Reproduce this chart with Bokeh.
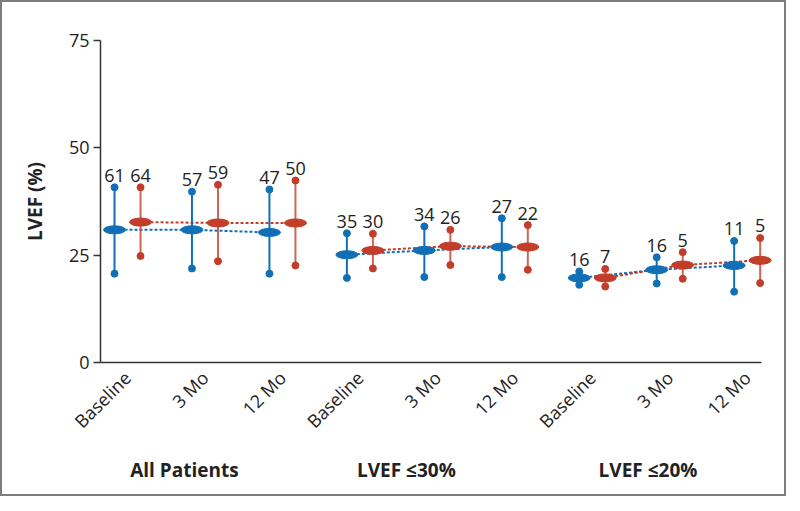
import math
from bokeh.plotting import figure
from bokeh.models import Range1d, FixedTicker, LinearAxis
from bokeh.core.properties import value
from bokeh.embed import file_html
from bokeh.resources import INLINE

# ---- data ----
time_labels = ["Baseline", "3 Mo", "12 Mo", "Baseline", "3 Mo", "12 Mo", "Baseline", "3 Mo", "12 Mo"]
groups = ["All Patients", "LVEF \u226430%", "LVEF \u226420%"]
blue_mean = [30.9, 30.9, 30.3, 25.1, 26.1, 26.9, 19.7, 21.6, 22.6]
blue_hi = [40.8, 39.8, 40.3, 30.1, 31.7, 33.6, 21.2, 24.5, 28.3]
blue_lo = [20.7, 21.9, 20.7, 19.7, 19.9, 19.9, 18.1, 18.4, 16.5]
blue_n = [61, 57, 47, 35, 34, 27, 16, 16, 11]
red_mean = [32.7, 32.5, 32.5, 26.1, 27.1, 26.9, 19.7, 22.7, 23.8]
red_hi = [40.8, 41.4, 42.4, 30.0, 30.9, 32.0, 21.8, 25.7, 29.0]
red_lo = [24.8, 23.6, 22.6, 21.9, 22.7, 21.6, 17.7, 19.5, 18.5]
red_n = [64, 59, 50, 30, 26, 22, 7, 5, 5]
y_ticks = [0, 25, 50, 75]

# ---- layout constants ----
BLUE = "#1170b5"
RED = "#c33d2b"
FONT = "Open Sans"
OFF = 0.168
group_label_pos = [0.735, 3.6, 6.72]

idx = list(range(len(time_labels)))
bx = [i - OFF for i in idx]
rx = [i + OFF for i in idx]

p = figure(frame_width=674, frame_height=322, output_backend="svg", toolbar_location=None,
           x_range=Range1d(-0.349, 8.353), y_range=Range1d(0, 75),
           min_border_left=98, min_border_top=38, min_border_right=10,
           min_border_bottom=132, x_axis_location=None)
p.styles = {"border": "2px solid #7d7d7d"}
p.outline_line_color = None
p.xgrid.visible = False
p.ygrid.visible = False
p.background_fill_color = "white"

# dashed connectors within each group
for g in range(3):
    s = slice(3 * g, 3 * g + 3)
    p.line(bx[s], blue_mean[s], line_color=BLUE, line_width=2, line_dash="3 2")
    p.line(rx[s], red_mean[s], line_color=RED, line_width=2, line_dash="3 2")

# whiskers
p.segment(x0=bx, y0=blue_lo, x1=bx, y1=blue_hi, line_color=BLUE, line_width=2)
p.segment(x0=rx, y0=red_lo, x1=rx, y1=red_hi, line_color=RED, line_width=2, line_alpha=0.8)
for xs, lo, hi, c in [(bx, blue_lo, blue_hi, BLUE), (rx, red_lo, red_hi, RED)]:
    p.scatter(xs, lo, size=7, color=c)
    p.scatter(xs, hi, size=7, color=c)

# means
p.ellipse(x=bx, y=blue_mean, width=22, height=8, width_units="screen", height_units="screen",
          fill_color=BLUE, line_color=BLUE)
p.ellipse(x=rx, y=red_mean, width=22, height=8, width_units="screen", height_units="screen",
          fill_color=RED, line_color=RED)

# n labels
p.text(x=bx, y=blue_hi, text=[str(n) for n in blue_n], text_align="center",
       text_baseline="alphabetic", y_offset=-12, text_font=value(FONT),
       text_font_size="18px", text_color="#222222")
p.text(x=rx, y=red_hi, text=[str(n) for n in red_n], text_align="center",
       text_baseline="alphabetic", y_offset=-12, text_font=value(FONT),
       text_font_size="18px", text_color="#222222")

# y axis
ya = p.yaxis[0]
ya.ticker = FixedTicker(ticks=y_ticks)
ya.minor_tick_line_color = None
ya.major_tick_out = 7
ya.major_tick_in = 0
ya.axis_line_width = 1.5
ya.axis_line_color = "#333333"
ya.major_tick_line_color = "#333333"
ya.major_tick_line_width = 1.5
ya.major_label_text_font = FONT
ya.major_label_text_font_size = "18px"
ya.major_label_text_color = "#222222"
ya.major_label_standoff = 4
ya.axis_label = "LVEF (%)"
ya.axis_label_text_font = FONT
ya.axis_label_text_font_size = "19px"
ya.axis_label_text_font_style = "bold"
ya.axis_label_text_color = "#222222"
ya.axis_label_standoff = 18

# x axis (time points)
xa = LinearAxis(ticker=FixedTicker(ticks=idx),
                major_label_overrides={i: t for i, t in zip(idx, time_labels)},
                major_label_orientation=math.pi / 4, bounds=(-0.349, 8.185))
xa.axis_line_width = 1.5
xa.axis_line_color = "#333333"
xa.major_tick_line_color = None
xa.minor_tick_line_color = None
xa.major_label_text_font = FONT
xa.major_label_text_font_size = "18px"
xa.major_label_text_color = "#222222"
xa.major_label_standoff = 6
p.add_layout(xa, "below")

# group labels axis
ga = LinearAxis(ticker=FixedTicker(ticks=group_label_pos),
                major_label_overrides={pos: g for pos, g in zip(group_label_pos, groups)})
ga.axis_line_color = None
ga.major_tick_line_color = None
ga.minor_tick_line_color = None
ga.major_label_text_font = FONT
ga.major_label_text_font_size = "19px"
ga.major_label_text_font_style = "bold"
ga.major_label_text_color = "#222222"
ga.major_label_standoff = 6
p.add_layout(ga, "below")

open("out.html", "w").write(file_html(p, INLINE))
